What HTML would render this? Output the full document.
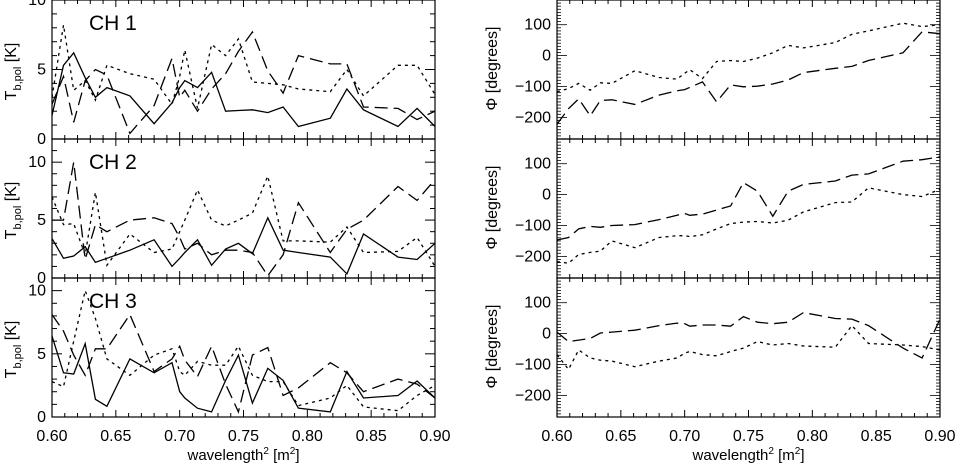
<!DOCTYPE html>
<html><head><meta charset="utf-8">
<style>
html,body{margin:0;padding:0;background:#fff;}
svg{display:block;font-family:"Liberation Sans",sans-serif;}
</style></head>
<body>
<svg id="fig" width="957" height="464" viewBox="0 0 957 464" xmlns="http://www.w3.org/2000/svg"></svg>
<script>
const wl = [0.600,0.609,0.617,0.626,0.634,0.643,0.661,0.680,0.694,0.700,0.704,0.714,0.725,0.736,0.746,0.757,0.769,0.781,0.793,0.818,0.831,0.844,0.871,0.886,0.900];
const xTicks = [0.60,0.65,0.70,0.75,0.80,0.85,0.90];
const xTickLabels = ["0.60","0.65","0.70","0.75","0.80","0.85","0.90"];
const channelNames = ["CH  1","CH  2","CH  3"];
const tbMax = [10,12,11];
const tbTicks = [0,5,10];
const phiTicks = [100,0,-100,-200];
const phiTickLabels = ["100","0","\u2212100","\u2212200"];

const ch1Solid = [1.7,5.3,6.2,4.4,3.0,3.7,3.1,1.1,2.6,3.7,4.2,3.7,4.8,2.0,2.05,2.1,1.9,2.3,0.9,1.5,3.6,2.1,0.9,2.2,0.9];
const ch1Dash  = [2.5,4.5,1.2,4.2,5.0,4.6,0.4,2.4,5.8,3.0,3.5,2.0,3.6,4.7,6.3,7.7,4.9,3.3,6.0,5.4,5.4,2.3,2.2,1.4,2.0];
const ch1Dot   = [3.0,8.2,3.5,4.2,2.8,5.3,4.7,4.3,2.5,4.5,6.4,2.2,6.8,6.0,7.2,4.1,4.0,3.9,3.6,3.4,5.0,3.1,5.3,5.3,3.2];
const ch2Solid = [3.4,1.7,1.9,2.7,1.35,1.7,2.4,3.3,1.0,1.7,2.2,3.3,1.1,2.5,3.0,2.1,5.2,2.4,2.2,1.8,0.35,3.8,1.8,1.6,3.0];
const ch2Dash  = [5.0,5.0,10.0,1.6,4.6,4.0,5.0,5.2,4.7,3.5,2.5,3.0,2.0,2.4,2.4,2.2,0.2,2.0,6.5,2.2,4.2,5.0,7.9,6.7,8.5];
const ch2Dot   = [7.0,4.6,4.7,2.0,7.4,1.1,3.8,2.2,2.5,4.0,5.0,7.6,5.0,4.5,5.0,5.6,8.8,3.2,3.2,3.1,4.4,2.2,2.3,3.5,1.0];
const ch3Solid = [6.4,3.5,3.4,5.8,1.4,0.85,4.6,3.5,4.3,2.0,1.5,0.7,0.4,2.9,4.9,1.1,3.85,2.9,0.7,0.4,3.6,1.5,1.7,2.85,1.5];
const ch3Dash  = [8.1,6.8,4.9,3.3,5.4,5.4,8.1,3.6,4.6,5.6,4.5,3.2,5.6,2.6,0.4,4.9,5.5,1.7,2.3,4.3,3.5,2.0,3.0,2.6,1.5];
const ch3Dot   = [2.8,2.4,6.0,10.0,7.8,4.6,3.3,4.9,5.4,3.6,3.3,4.4,4.1,4.1,5.6,3.3,2.8,2.8,0.9,1.5,2.5,0.8,0.5,1.7,2.5];

const phi1Dash = [-222,-172,-140,-195,-145,-143,-158,-128,-114,-110,-103,-85,-150,-95,-101,-99,-92,-79,-55,-41,-35,-16,9,77,71];
const phi1Dot  = [-117,-107,-90,-112,-88,-90,-49,-71,-76,-57,-46,-74,-19,-16,-19,-8,9,33,25,42,69,80,105,94,100];
const phi2Dash = [-147,-139,-111,-103,-106,-100,-97,-81,-67,-61,-67,-63,-50,-37,39,11,-70,11,33,44,63,67,108,113,122];
const phi2Dot  = [-217,-222,-194,-187,-183,-150,-172,-139,-133,-133,-136,-130,-111,-94,-89,-87,-92,-83,-56,-26,-24,22,0,-6,17];
const phi3Dash = [5,-26,-21,-16,2,5,11,26,34,32,24,28,28,24,55,37,32,37,68,49,47,26,-47,-79,47];
const phi3Dot  = [-68,-116,-53,-79,-86,-89,-107,-89,-79,-63,-58,-68,-72,-58,-47,-26,-37,-32,-40,-44,26,-32,-37,-42,-53];

const tbSeries = [[ch1Solid,ch1Dash,ch1Dot],[ch2Solid,ch2Dash,ch2Dot],[ch3Solid,ch3Dash,ch3Dot]];
const phiSeries = [[phi1Dash,phi1Dot],[phi2Dash,phi2Dot],[phi3Dash,phi3Dot]];

const NS="http://www.w3.org/2000/svg";
const svg=document.getElementById('fig');
function mk(tag,attrs,parent){const e=document.createElementNS(NS,tag);for(const k in attrs)e.setAttribute(k,attrs[k]);(parent||svg).appendChild(e);return e;}
const L={x0:52,x1:435}, R={x0:557,x1:940};
const panelTop=[0,139,278], panelH=139;
const PHImin=-270, PHImax=180;
function xScale(p,v){return p.x0+(v-0.6)/0.3*(p.x1-p.x0);}
function yTb(i,v){return panelTop[i]+panelH-v/tbMax[i]*panelH;}
function yPhi(i,v){return panelTop[i]+panelH-(v-PHImin)/(PHImax-PHImin)*panelH;}
const styles=[{d:"none"},{d:"13,6"},{d:"3,4"}];

for(let i=0;i<3;i++){
  const top=panelTop[i], bot=top+panelH;
  const gL=mk('g',{});
  
  
  const fr=mk('rect',{x:L.x0,y:top,width:L.x1-L.x0,height:panelH,fill:'none',stroke:'#000','stroke-width':1.2},gL);
  
  for(let v=0.6;v<=0.9001;v+=0.01){
    const x=xScale(L,v);const major=Math.abs(Math.round(v*100)%5)===0;const len=major?7:4;
    mk('line',{x1:x,y1:bot,x2:x,y2:bot-len,stroke:'#000','stroke-width':1},gL);
    mk('line',{x1:x,y1:top,x2:x,y2:top+len,stroke:'#000','stroke-width':1},gL);
  }
  for(let v=0;v<=tbMax[i];v++){
    const y=yTb(i,v);const len=(v%5===0)?10:5;
    mk('line',{x1:L.x0,y1:y,x2:L.x0+len,y2:y,stroke:'#000','stroke-width':1},gL);
    mk('line',{x1:L.x1,y1:y,x2:L.x1-len,y2:y,stroke:'#000','stroke-width':1},gL);
  }
  tbTicks.forEach(v=>{
    if(v>tbMax[i])return;
    const t=mk('text',{x:L.x0-6,y:yTb(i,v)+5,'text-anchor':'end','font-size':16,fill:'#000'},gL);
    t.textContent=String(v);
    
  });
  const ct=mk('text',{x:L.x0+37,y:top+30,'font-size':21,fill:'#000'},gL);
  ct.textContent=channelNames[i];
  
  const yt=mk('text',{transform:`translate(16,${top+panelH/2+2}) rotate(-90)`,'text-anchor':'middle','font-size':16,fill:'#000'},gL);
  yt.innerHTML='T<tspan font-size="11" dy="5">b,pol</tspan><tspan dy="-5">  [K]</tspan>';
  
  tbSeries[i].forEach((s,k)=>{
    const pts=s.map((v,j)=>xScale(L,wl[j]).toFixed(1)+','+yTb(i,v).toFixed(1)).join(' ');
    const pl=mk('polyline',{points:pts,fill:'none',stroke:'#000','stroke-width':1.3,'stroke-dasharray':styles[k].d},gL);
    
    
  });

  const gR=mk('g',{});
  
  
  const fr2=mk('rect',{x:R.x0,y:top,width:R.x1-R.x0,height:panelH,fill:'none',stroke:'#000','stroke-width':1.2},gR);
  
  for(let v=0.6;v<=0.9001;v+=0.01){
    const x=xScale(R,v);const major=Math.abs(Math.round(v*100)%5)===0;const len=major?7:4;
    mk('line',{x1:x,y1:bot,x2:x,y2:bot-len,stroke:'#000','stroke-width':1},gR);
    mk('line',{x1:x,y1:top,x2:x,y2:top+len,stroke:'#000','stroke-width':1},gR);
  }
  for(let v=-270;v<=180;v+=10){
    const y=yPhi(i,v);const len=(v%100===0)?10:4;
    mk('line',{x1:R.x0,y1:y,x2:R.x0+len,y2:y,stroke:'#000','stroke-width':0.8},gR);
    mk('line',{x1:R.x1,y1:y,x2:R.x1-len,y2:y,stroke:'#000','stroke-width':0.8},gR);
  }
  phiTicks.forEach((v,k)=>{
    const t=mk('text',{x:R.x0-6,y:yPhi(i,v)+5,'text-anchor':'end','font-size':16,fill:'#000'},gR);
    t.textContent=phiTickLabels[k];
    
  });
  const yt2=mk('text',{transform:`translate(497,${top+panelH/2-1}) rotate(-90)`,'text-anchor':'middle','font-size':16,fill:'#000'},gR);
  yt2.textContent='\u03A6  [degrees]';
  
  phiSeries[i].forEach((s,k)=>{
    const pts=s.map((v,j)=>xScale(R,wl[j]).toFixed(1)+','+yPhi(i,v).toFixed(1)).join(' ');
    const pl=mk('polyline',{points:pts,fill:'none',stroke:'#000','stroke-width':1.3,'stroke-dasharray':styles[k+1].d},gR);
    
    
  });
}
[L,R].forEach((p,n)=>{
  xTicks.forEach((v,k)=>{
    const t=mk('text',{x:xScale(p,v),y:441,'text-anchor':'middle','font-size':16,fill:'#000'});
    t.textContent=xTickLabels[k];
    
  });
  const xt=mk('text',{x:(p.x0+p.x1)/2,y:460,'text-anchor':'middle','font-size':15,fill:'#000'});
  xt.innerHTML='wavelength<tspan font-size="10" dy="-6">2</tspan><tspan dy="6">  [m</tspan><tspan font-size="10" dy="-6">2</tspan><tspan dy="6">]</tspan>';
  
});
</script>
</body></html>
